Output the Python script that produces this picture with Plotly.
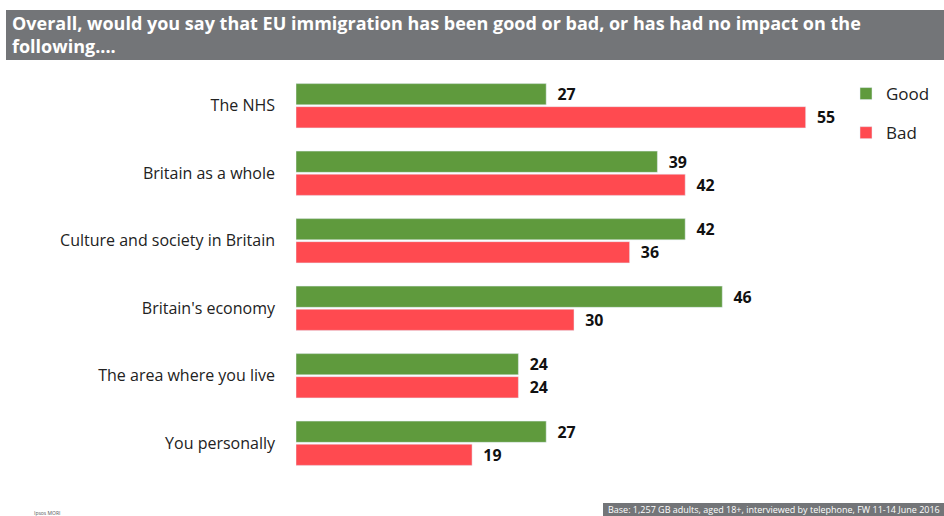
import plotly.graph_objects as go

categories = ["The NHS", "Britain as a whole", "Culture and society in Britain",
              "Britain's economy", "The area where you live", "You personally"]
good = [27, 39, 42, 46, 24, 27]
bad = [55, 42, 36, 30, 24, 19]

GREEN = "#5f9a3d"
RED = "#ff4a50"
FONT = "Open Sans"

fig = go.Figure()
fig.add_trace(go.Bar(y=categories, x=good, name="Good", orientation="h",
                     marker=dict(color=GREEN), text=good, textposition="outside",
                     texttemplate="  %{x}",
                     textfont=dict(family=FONT, size=18, color="#111111", weight="bold"),
                     cliponaxis=False, legendgroup="g"))
fig.add_trace(go.Bar(y=categories, x=bad, name="Bad", orientation="h",
                     marker=dict(color=RED), text=bad, textposition="outside",
                     texttemplate="  %{x}",
                     textfont=dict(family=FONT, size=18, color="#111111", weight="bold"),
                     cliponaxis=False, legendgroup="b"))

L, R, T, B = 296, 92, 72, 39
W, H = 944, 516
pw, ph = W - L - R, H - T - B

def px(x):
    return (x - L) / pw

def py(y):
    return 1 - (y - T) / ph

fig.update_layout(
    width=W, height=H,
    margin=dict(l=L, r=R, t=T, b=B, autoexpand=False),
    paper_bgcolor="white", plot_bgcolor="white",
    barmode="group", bargap=0.317, bargroupgap=0.08,
    font=dict(family=FONT, size=16, color="#222222"),
    xaxis=dict(range=[0, 60], visible=False),
    yaxis=dict(autorange="reversed", showline=False, showgrid=False, ticks="",
               ticklabelstandoff=20, tickfont=dict(family=FONT, size=16, color="#222222")),
    legend=dict(x=px(846), y=py(76), xanchor="left", yanchor="top",
                font=dict(family=FONT, size=17, color="#222222"),
                tracegroupgap=14, itemwidth=30, bgcolor="rgba(0,0,0,0)"),
    shapes=[
        dict(type="rect", xref="paper", yref="paper", x0=px(6), x1=px(944),
             y0=py(60), y1=py(10), fillcolor="#737578", line=dict(width=0), layer="below"),
        dict(type="rect", xref="paper", yref="paper", x0=px(603), x1=px(944),
             y0=py(516), y1=py(503), fillcolor="#737578", line=dict(width=0), layer="below"),
    ],
    annotations=[
        dict(xref="paper", yref="paper", x=px(10), y=py(35), xanchor="left", yanchor="middle",
             align="left", showarrow=False,
             text="<b>Overall, would you say that EU immigration has been good or bad, or has had no impact on the<br>following....</b>",
             font=dict(family=FONT, size=18, color="white")),
        dict(xref="paper", yref="paper", x=px(606), y=py(509.5), xanchor="left", yanchor="middle",
             showarrow=False,
             text="Base: 1,257 GB adults, aged 18+, interviewed by telephone, FW 11-14 June 2016",
             font=dict(family=FONT, size=9, color="white")),
        dict(xref="paper", yref="paper", x=px(32), y=py(513), xanchor="left", yanchor="middle",
             showarrow=False, text="Ipsos MORI",
             font=dict(family=FONT, size=5, color="#555555")),
    ],
)

fig.write_html("out.html")
